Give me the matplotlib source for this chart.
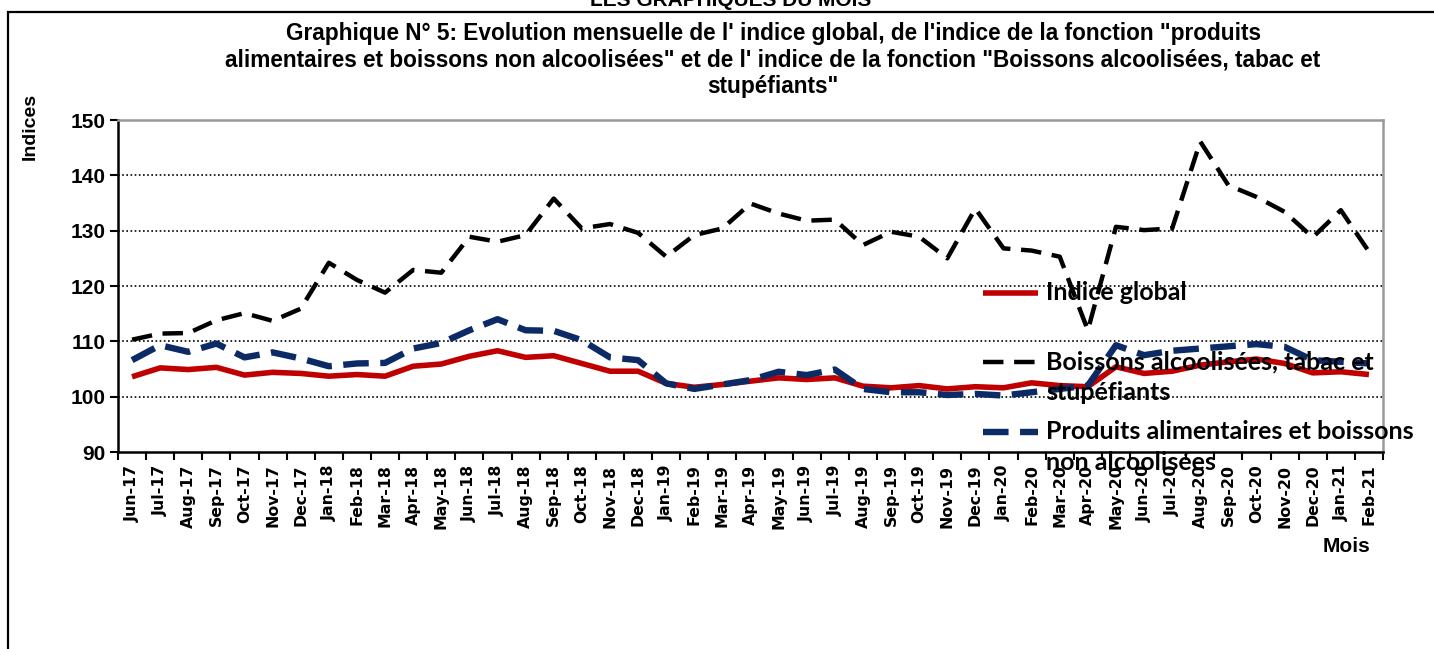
import matplotlib
matplotlib.use("Agg")
import matplotlib.pyplot as plt
from matplotlib.lines import Line2D
from matplotlib.patches import Rectangle

months = ["Jun-17", "Jul-17", "Aug-17", "Sep-17", "Oct-17", "Nov-17", "Dec-17",
          "Jan-18", "Feb-18", "Mar-18", "Apr-18", "May-18", "Jun-18", "Jul-18",
          "Aug-18", "Sep-18", "Oct-18", "Nov-18", "Dec-18", "Jan-19", "Feb-19",
          "Mar-19", "Apr-19", "May-19", "Jun-19", "Jul-19", "Aug-19", "Sep-19",
          "Oct-19", "Nov-19", "Dec-19", "Jan-20", "Feb-20", "Mar-20", "Apr-20",
          "May-20", "Jun-20", "Jul-20", "Aug-20", "Sep-20", "Oct-20", "Nov-20",
          "Dec-20", "Jan-21", "Feb-21"]

indice_global = [103.6, 105.2, 104.9, 105.3, 103.9, 104.4, 104.2, 103.7, 104.0, 103.7,
                 105.5, 105.9, 107.3, 108.3, 107.1, 107.4, 106.0, 104.6, 104.6, 102.4,
                 101.7, 102.2, 102.8, 103.4, 103.1, 103.4, 101.9, 101.6, 102.0, 101.4,
                 101.8, 101.6, 102.5, 102.0, 101.8, 105.4, 104.2, 104.6, 105.7, 106.3,
                 106.8, 106.0, 104.3, 104.5, 104.0]

boissons_alc = [110.3, 111.4, 111.5, 113.8, 115.1, 113.7, 115.9, 124.2, 121.1, 118.8,
                122.9, 122.4, 128.9, 128.0, 129.2, 135.8, 130.4, 131.2, 129.6, 125.3,
                129.2, 130.4, 134.9, 133.1, 131.8, 132.0, 127.4, 129.8, 128.9, 125.0,
                134.0, 126.8, 126.4, 125.3, 112.0, 130.7, 130.1, 130.4, 146.1, 138.2,
                136.1, 133.4, 128.8, 133.7, 126.2]

produits_alim = [106.6, 109.3, 108.1, 109.6, 107.1, 108.0, 106.9, 105.5, 106.0, 106.1,
                 108.7, 109.7, 112.0, 114.0, 112.0, 111.9, 110.2, 107.1, 106.6, 102.4,
                 101.4, 102.2, 103.0, 104.5, 103.9, 104.9, 101.4, 100.8, 100.8, 100.3,
                 100.5, 100.2, 100.8, 101.4, 102.0, 109.3, 107.5, 108.3, 108.7, 109.1,
                 109.5, 109.0, 106.6, 106.3, 106.0]

yticks = [90, 100, 110, 120, 130, 140, 150]

labels = ["Indice global", "Boissons alcoolisées, tabac et\nstupéfiants",
          "Produits alimentaires et boissons\nnon alcoolisées"]

W, H = 1434, 649
RED = "#c00000"
NAVY = "#0b2a66"

def fx(px):
    return px / W

def fy(py):
    return 1 - py / H

red_style = dict(color=RED, lw=4.0, solid_capstyle="butt")
blk_style = dict(color="black", lw=3.2, dashes=(4.6, 2.4))
blu_style = dict(color=NAVY, lw=4.6, dashes=(4.0, 1.8))

fig = plt.figure(figsize=(W / 100, H / 100), dpi=100)
ax = fig.add_axes([fx(118), fy(452), fx(1383) - fx(118), fy(120) - fy(452)])

x = list(range(len(months)))
ax.plot(x, indice_global, zorder=3, **red_style)
ax.plot(x, boissons_alc, zorder=3, **blk_style)
ax.plot(x, produits_alim, zorder=3, **blu_style)

ax.set_xlim(-0.5, len(months) - 0.5)
ax.set_ylim(90, 150)
ax.set_yticks(yticks)
ax.set_yticklabels([str(v) for v in yticks], fontsize=15, fontweight="bold",
                   family="Liberation Sans")
ax.tick_params(axis="y", length=6, width=1.5, pad=3)

ax.set_xticks(x)
ax.set_xticklabels(months, rotation=90, fontsize=11.3, fontweight="bold",
                   family="DejaVu Sans")
ax.tick_params(axis="x", which="major", length=0, pad=9)
ax.set_xticks([i - 0.5 for i in range(len(months) + 1)], minor=True)
ax.tick_params(axis="x", which="minor", length=6, width=1.5)

for v in yticks[1:-1]:
    ax.axhline(v, color="black", lw=1.2, ls=(0, (1, 1.5)), zorder=1)

for s in ["left", "bottom"]:
    ax.spines[s].set_linewidth(1.8)
    ax.spines[s].set_color("black")
for s in ["top", "right"]:
    ax.spines[s].set_linewidth(1.8)
    ax.spines[s].set_color("#999999")

# manual legend, Excel style (marker aligned with first text line)
leg_font = dict(family="Lato", fontsize=18, fontweight="bold", color="black", zorder=5)
handles = [(292.7, red_style), (361.7, blk_style), (431.7, blu_style)]
for (py, style), lab in zip(handles, labels):
    fig.add_artist(Line2D([fx(983), fx(1038)], [fy(py), fy(py)], transform=fig.transFigure,
                          zorder=5, **style))
    first, *rest = lab.split("\n")
    fig.text(fx(1046), fy(py), first, va="center", ha="left", **leg_font)
    for k, line in enumerate(rest):
        fig.text(fx(1046), fy(py + 31 * (k + 1)), line, va="center", ha="left", **leg_font)

fig.text(fx(773), fy(60),
         "Graphique N° 5: Evolution mensuelle de l' indice global, de l'indice de la fonction \"produits\n"
         "alimentaires et boissons non alcoolisées\" et de l' indice de la fonction \"Boissons alcoolisées, tabac et\n"
         "stupéfiants\"",
         ha="center", va="center", fontsize=16.3, fontweight="bold",
         family="Liberation Sans", linespacing=1.2)

fig.text(fx(30), fy(126), "Indices", rotation=90, ha="center", va="center",
         fontsize=14, fontweight="bold", family="Liberation Sans")
fig.text(fx(1347), fy(546), "Mois", ha="center", va="center",
         fontsize=15, fontweight="bold", family="Liberation Sans")

# page frame and cut-off page heading
fig.add_artist(Rectangle((fx(8), -0.5), 2, fy(12) + 0.5, transform=fig.transFigure,
                         fill=False, edgecolor="black", lw=1.6))
fig.text(fx(731), fy(6), "LES GRAPHIQUES DU MOIS", ha="center", va="baseline",
         fontsize=15, fontweight="bold", family="Liberation Sans")

fig.savefig("out.png", dpi=100)
